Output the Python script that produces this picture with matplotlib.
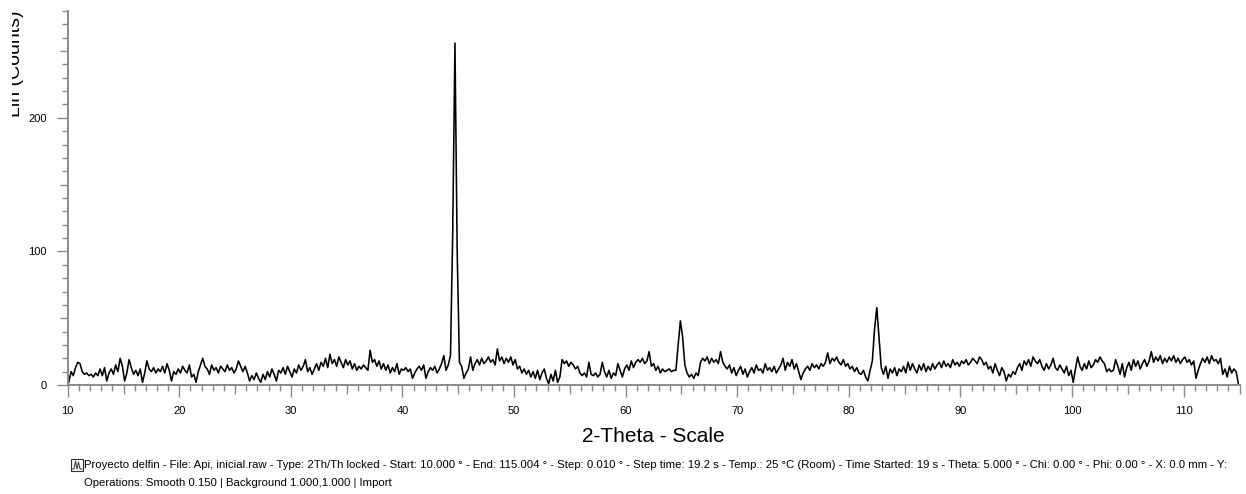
import numpy as np
import matplotlib; matplotlib.use("Agg")
import matplotlib.pyplot as plt
from matplotlib.ticker import FixedLocator, FuncFormatter
from matplotlib.transforms import Bbox, TransformedBbox
from matplotlib.patches import Rectangle
from matplotlib.lines import Line2D

plt.rcParams['font.family'] = ['Liberation Sans', 'DejaVu Sans']

# 2-theta grid (deg): 10.1 .. 114.9, 0.2 deg step
two_theta = np.round(10.1 + 0.2 * np.arange(525), 2)
# counts, five points per degree (x.1 x.3 x.5 x.7 x.9)
counts = [
    2, 10, 7, 13, 17,   16, 10, 8, 9, 7,     8, 6, 9, 7, 12,     7, 13, 3, 9, 12,    8, 15, 10, 20, 14,   # 10-14
    3, 9, 19, 13, 8,    11, 7, 12, 2, 9,     18, 12, 10, 13, 9,  12, 10, 14, 9, 16,  11, 3, 10, 8, 12,    # 15-19
    9, 14, 11, 9, 15,   6, 8, 2, 10, 15,     20, 14, 12, 8, 15,  11, 13, 9, 14, 12,  10, 15, 11, 13, 9,   # 20-24
    12, 18, 14, 10, 14, 9, 3, 7, 4, 9,       5, 2, 8, 4, 10,     6, 12, 8, 3, 11,    9, 13, 8, 14, 10,   # 25-29
    6, 12, 9, 15, 11,   14, 19, 10, 13, 8,   12, 16, 11, 17, 14, 20, 13, 23, 16, 19, 14, 21, 17, 13, 19,  # 30-34
    15, 18, 12, 16, 11, 14, 12, 15, 13, 11,  26, 17, 19, 14, 18, 12, 16, 11, 15, 9,  13, 10, 16, 8, 12,  # 35-39
    11, 13, 10, 12, 5,  9, 12, 14, 11, 15,   5, 10, 13, 11, 14,  9, 12, 16, 22, 11,  15, 22, 115, 256, 100,  # 40-44
    17, 14, 5, 9, 12,   21, 11, 16, 19, 15,  20, 16, 18, 21, 17, 19, 15, 27, 18, 21, 16, 20, 17, 21, 15,  # 45-49
    19, 12, 14, 9, 12,  8, 11, 6, 10, 5,     11, 4, 9, 12, 5,    1, 8, 3, 11, 2,     6, 19, 16, 18, 14,  # 50-54
    17, 15, 12, 14, 9,  7, 9, 6, 17, 8,      7, 9, 6, 8, 17,     10, 6, 11, 5, 9,    7, 16, 11, 6, 12,  # 55-59
    15, 11, 18, 13, 17, 19, 17, 20, 16, 18,  25, 14, 16, 11, 14, 9, 12, 10, 11, 12,  10, 11, 11, 30, 48,  # 60-64
    36, 15, 9, 6, 8,    5, 9, 7, 17, 20,     18, 21, 16, 20, 17, 19, 16, 25, 17, 14, 12, 15, 9, 13, 7,  # 65-69
    11, 14, 8, 12, 6,   10, 13, 9, 15, 11,   12, 9, 16, 11, 13,  10, 14, 9, 12, 15,  20, 11, 17, 14, 19,  # 70-74
    12, 16, 10, 4, 9,   12, 14, 11, 16, 13,  15, 12, 16, 14, 17, 24, 16, 20, 18, 21, 17, 15, 19, 14, 16,  # 75-79
    12, 14, 10, 13, 9,  8, 11, 6, 3, 11,     18, 42, 58, 35, 13, 8, 14, 5, 12, 9,    13, 7, 12, 10, 14,  # 80-84
    9, 17, 11, 16, 12,  9, 15, 11, 16, 10,   14, 11, 16, 12, 15, 17, 13, 18, 14, 16, 13, 19, 15, 17, 14,  # 85-89
    18, 16, 19, 15, 17, 20, 18, 16, 21, 19,  15, 17, 12, 14, 9,  16, 11, 7, 13, 10,  3, 8, 6, 10, 8,    # 90-94
    13, 16, 11, 18, 15, 19, 14, 21, 18, 16,  19, 14, 11, 16, 12, 15, 20, 13, 11, 15, 12, 9, 14, 7, 11,  # 95-99
    2, 12, 21, 14, 11,  16, 12, 18, 13, 15,  19, 17, 21, 18, 16, 10, 12, 10, 11, 19, 14, 8, 16, 6, 13,  # 100-104
    17, 11, 19, 14, 18, 12, 16, 19, 14, 18,  25, 17, 21, 18, 22, 16, 20, 17, 21, 18, 22, 17, 20, 16, 19,  # 105-109
    21, 17, 19, 15, 18, 5, 11, 16, 20, 17,   21, 16, 22, 18, 19, 16, 20, 8, 12, 6,   14, 9, 12, 10, 1,   # 110-114
]

x_major = [10, 20, 30, 40, 50, 60, 70, 80, 90, 100, 110]
y_major = [0, 100, 200]
footer_1 = ("Proyecto delfin - File: Api, inicial.raw - Type: 2Th/Th locked - Start: 10.000 \u00b0 - End: 115.004 \u00b0 - "
            "Step: 0.010 \u00b0 - Step time: 19.2 s - Temp.: 25 \u00b0C (Room) - Time Started: 19 s - Theta: 5.000 \u00b0 - "
            "Chi: 0.00 \u00b0 - Phi: 0.00 \u00b0 - X: 0.0 mm - Y:")
footer_2 = "Operations: Smooth 0.150 | Background 1.000,1.000 | Import"

W, H = 1246, 494
fig = plt.figure(figsize=(W / 100, H / 100), dpi=100)
ax = fig.add_axes([67.7 / W, 1 - 385 / H, (1239.5 - 67.7) / W, (385 - 11) / H])
ax.plot(two_theta, counts, color="black", lw=1.15)
ax.set_xlim(10, 115); ax.set_ylim(0, 280)

grey = "#8a8a8a"
for s in ["top", "right"]: ax.spines[s].set_visible(False)
for s in ["left", "bottom"]: ax.spines[s].set_color(grey); ax.spines[s].set_linewidth(1.4)

xt = list(range(10, 116, 5)); yt = list(range(0, 281, 50))
ax.xaxis.set_major_locator(FixedLocator(xt)); ax.yaxis.set_major_locator(FixedLocator(yt))
ax.xaxis.set_minor_locator(FixedLocator([v for v in range(10, 116) if v % 5]))
ax.yaxis.set_minor_locator(FixedLocator([v for v in range(0, 281, 10) if v % 50]))
ax.xaxis.set_major_formatter(FuncFormatter(lambda v, p: "%d" % v if int(v) in x_major else ""))
ax.yaxis.set_major_formatter(FuncFormatter(lambda v, p: "%d" % v if int(v) in y_major else ""))
ax.tick_params(which="both", direction="out", color=grey, width=1.0, labelsize=8, labelcolor="black")
ax.tick_params(axis="x", which="major", length=8.5, pad=6.5)
ax.tick_params(axis="y", which="major", length=8, pad=7)
ax.tick_params(which="minor", length=4)
for t, v in zip(ax.xaxis.get_major_ticks(), xt):
    if v not in x_major: t.tick1line.set_markersize(6.2)
for t, v in zip(ax.yaxis.get_major_ticks(), yt):
    if v not in y_major: t.tick1line.set_markersize(5.8)

ax.set_xlabel("2-Theta - Scale", fontsize=15, labelpad=8)
yl = fig.text(24 / W, 1 - 117 / H, "Lin (Counts)", rotation=90, fontsize=14, ha="right", va="bottom")
yl.set_clip_box(TransformedBbox(Bbox.from_extents(12 / W, 0, 1, 1), fig.transFigure)); yl.set_clip_on(True)

# footer with scan icon
fig.text(84 / W, 1 - 465 / H, footer_1, fontsize=8.2, va="center", ha="left")
fig.text(84 / W, 1 - 483 / H, footer_2, fontsize=8.2, va="center", ha="left")
fig.patches.append(Rectangle((71 / W, 1 - 471 / H), 12 / W, 12 / H, transform=fig.transFigure,
                             fill=False, edgecolor="#333333", lw=0.8))
fig.lines.append(Line2D(np.array([72, 74, 75.5, 77, 78.5, 80, 82]) / W,
                        1 - np.array([469, 469, 461, 469, 462, 469, 469]) / H,
                        transform=fig.transFigure, color="#333333", lw=0.7))

fig.savefig("out.png", dpi=100)
